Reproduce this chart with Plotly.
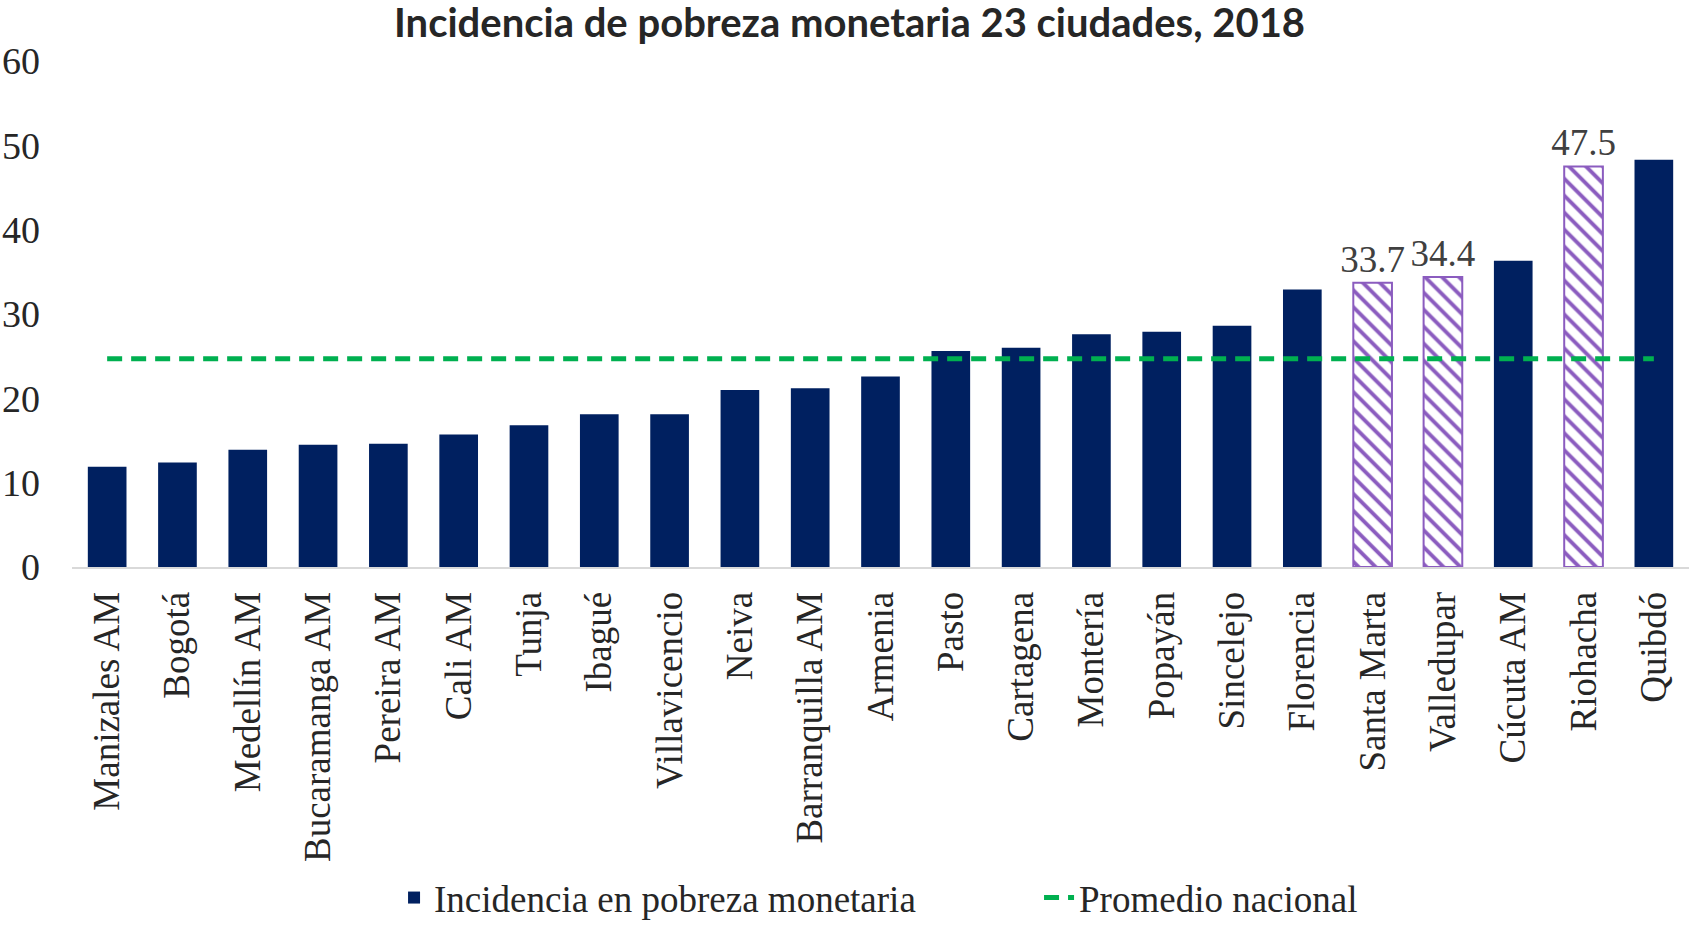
import plotly.graph_objects as go

cities = ["Manizales AM", "Bogotá", "Medellín AM", "Bucaramanga AM", "Pereira AM",
          "Cali AM", "Tunja", "Ibagué", "Villavicencio", "Neiva", "Barranquilla AM",
          "Armenia", "Pasto", "Cartagena", "Montería", "Popayán", "Sincelejo",
          "Florencia", "Santa Marta", "Valledupar", "Cúcuta AM", "Riohacha", "Quibdó"]
incidence = [11.9, 12.4, 13.9, 14.5, 14.6, 15.7, 16.8, 18.1, 18.1, 21.0, 21.2,
             22.6, 25.6, 26.0, 27.6, 27.9, 28.6, 32.9, 33.7, 34.4, 36.3, 47.5, 48.3]
highlighted = ["Santa Marta", "Valledupar", "Riohacha"]
national_avg = 24.7
y_ticks = [0, 10, 20, 30, 40, 50, 60]

NAVY = "#002060"
PURPLE = "#8B5CBF"
GREEN = "#00B050"
SERIF = "Liberation Serif, Times New Roman, serif"
TXT = "#262626"

hl = [c in highlighted for c in cities]
# with fillmode "replace" the pattern lines take the marker colour, background stays transparent
colors = [(PURPLE if h else NAVY) for h in hl]
shapes = [("\\" if h else "") for h in hl]
lines = [(PURPLE if h else NAVY) for h in hl]
lwidth = [(2 if h else 0) for h in hl]
texts = [(f"{v:.1f}" if h else "") for h, v in zip(hl, incidence)]

fig = go.Figure()
fig.add_trace(go.Bar(
    x=cities, y=incidence, name="Incidencia en pobreza monetaria",
    marker=dict(color=colors, line=dict(color=lines, width=lwidth),
                pattern=dict(shape=shapes, size=12, solidity=0.32, fillmode="replace")),
    text=texts, textposition="outside", cliponaxis=False, constraintext="none",
    textfont=dict(family=SERIF, size=37, color="#404040"),
))
fig.add_trace(go.Scatter(
    x=cities, y=[national_avg] * len(cities), mode="lines",
    name="Promedio nacional",
    line=dict(color=GREEN, width=5, dash="15px,9px"),
))

fig.update_layout(
    width=1689, height=929,
    paper_bgcolor="white", plot_bgcolor="white",
    margin=dict(l=72, r=0, t=61, b=362),
    bargap=0.45,
    title=dict(text="<b>Incidencia de pobreza monetaria 23 ciudades, 2018</b>",
               x=0.503, xanchor="center", y=0.975, yanchor="middle",
               font=dict(family="Lato, Open Sans, sans-serif", size=40, color="#262626"),
               automargin=False),
    showlegend=True,
    legend=dict(orientation="h", xref="container", yref="container",
                x=0.2333, xanchor="left", y=0.0, yanchor="bottom",
                font=dict(family=SERIF, size=37, color=TXT),
                entrywidth=600, entrywidthmode="pixels"),
    xaxis=dict(tickangle=-90, tickfont=dict(family=SERIF, size=37, color=TXT),
               showline=True, linecolor="#D9D9D9", linewidth=2, ticks="",
               showgrid=False, ticklabelstandoff=8, automargin=False),
    yaxis=dict(range=[0, 60], tickvals=y_ticks, showgrid=False, zeroline=False,
               tickfont=dict(family=SERIF, size=38, color=TXT),
               ticks="", showline=False, automargin=False, ticklabelstandoff=31),
)

fig.write_html("out.html", config={"displayModeBar": False},
               post_script="document.body.style.margin='0';document.body.style.overflow='hidden';")
